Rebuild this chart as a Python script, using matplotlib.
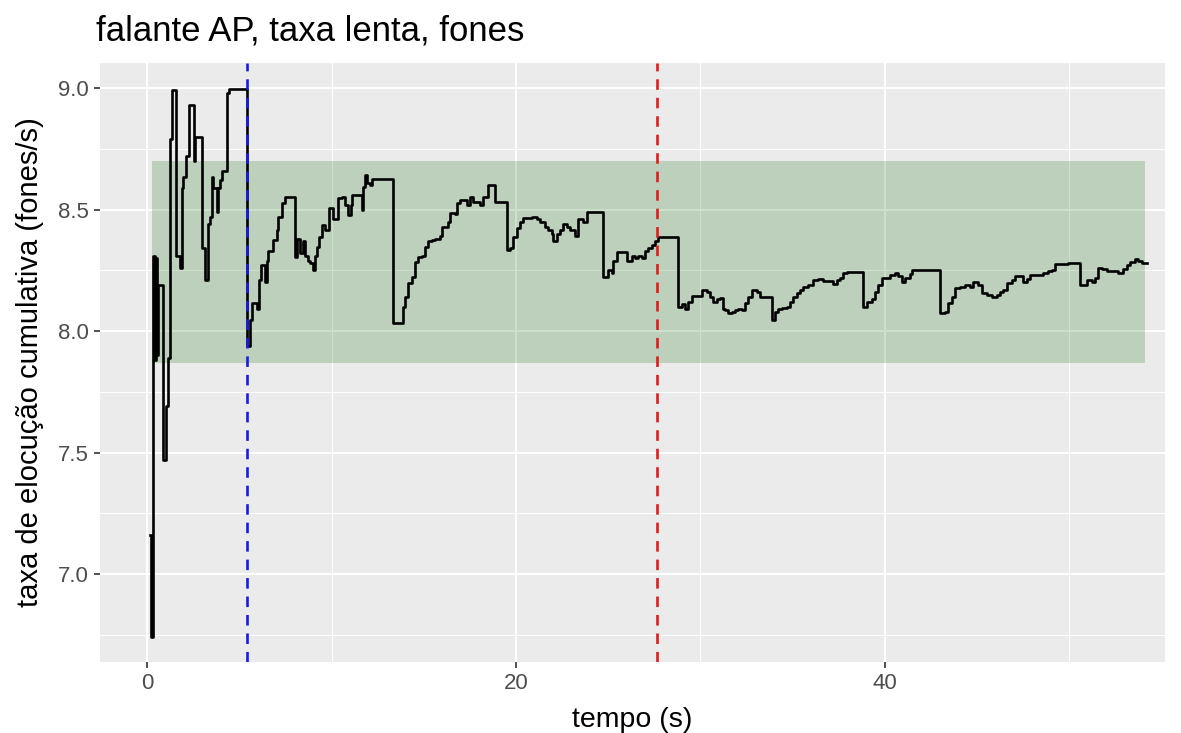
import matplotlib
matplotlib.use("Agg")
import matplotlib.pyplot as plt
from matplotlib.ticker import MultipleLocator

# cumulative speech rate (phones/s) over time, step changes
tempo = [0.16, 0.24, 0.30, 0.35, 0.43, 0.49, 0.55, 0.62, 0.89, 1.03, 1.11, 1.22, 1.33,
         1.57, 1.79, 1.87, 1.95, 2.11, 2.25, 2.52, 2.60,
         3.00, 3.14, 3.28, 3.41, 3.51, 3.60, 3.78, 3.86, 3.96, 4.07, 4.32, 4.44,
         5.40, 5.58, 5.67, 5.95, 6.09, 6.16, 6.40, 6.52, 6.57, 6.85, 7.03, 7.12, 7.30, 7.48,
         8.02, 8.11, 8.29, 8.47, 8.56, 8.74, 8.84, 9.01, 9.11, 9.23, 9.34, 9.47, 9.65, 9.88,
         10.10, 10.37, 10.55, 10.73, 10.91, 11.04, 11.10, 11.64, 11.73, 11.82, 11.91, 12.09, 12.18,
         13.35, 13.86, 13.98, 14.16, 14.35, 14.53, 14.70, 14.89, 15.07, 15.25, 15.43, 15.61, 15.88,
         15.97, 16.33, 16.42, 16.69, 16.79, 16.96, 17.33, 17.51, 17.69, 18.05, 18.23, 18.50,
         18.86, 19.50, 19.67, 19.85, 20.04, 20.22, 20.40, 20.85, 21.12, 21.30, 21.57, 21.75,
         21.93, 22.02, 22.21, 22.38, 22.56, 22.75, 22.93, 23.20, 23.38, 23.65, 23.83,
         24.70, 25.00, 25.19, 25.28, 25.46, 26.00, 26.27, 26.45, 26.63, 26.81, 26.99, 27.17,
         27.36, 27.53, 27.71,
         28.80, 28.98, 29.16, 29.34, 29.52, 30.07, 30.34, 30.51, 30.69, 30.88, 31.06, 31.24,
         31.33, 31.51, 31.69, 31.87, 32.05, 32.23, 32.41, 32.59, 32.77, 33.05, 33.22,
         33.86, 34.04, 34.22, 34.40, 34.67, 34.85, 35.03, 35.21, 35.39, 35.57, 35.84, 36.11,
         36.38, 36.66, 37.16, 37.38, 37.56, 37.74, 37.92,
         38.82, 39.01, 39.28, 39.46, 39.64, 39.82, 40.09, 40.27, 40.54, 40.72, 40.91, 41.08,
         41.36, 41.45,
         42.98, 43.25, 43.43, 43.62, 43.79, 44.07, 44.34, 44.61, 44.79, 45.06, 45.24, 45.51,
         45.78, 46.05, 46.23, 46.41, 46.60, 46.87, 47.05, 47.41, 47.50, 47.68, 47.86, 48.22,
         48.58, 48.85, 49.03, 49.22, 49.94,
         50.57, 50.93, 51.20, 51.38, 51.56, 51.74, 52.01, 52.64, 52.92, 53.10, 53.28, 53.55,
         53.73, 53.91, 54.18]
taxa = [7.16, 6.74, 8.06, 8.31, 7.88, 8.30, 7.90, 8.19, 7.47, 7.69, 7.89, 8.79, 8.99,
        8.31, 8.26, 8.59, 8.635, 8.72, 8.93, 8.70, 8.80,
        8.34, 8.21, 8.44, 8.47, 8.635, 8.59, 8.49, 8.59, 8.62, 8.66, 8.98, 8.995,
        7.94, 8.045, 8.114, 8.09, 8.21, 8.27, 8.20, 8.29, 8.33, 8.375, 8.415, 8.47, 8.525, 8.553,
        8.306, 8.38, 8.32, 8.37, 8.31, 8.29, 8.28, 8.25, 8.31, 8.347, 8.388, 8.436, 8.416, 8.505,
        8.46, 8.547, 8.553, 8.52, 8.477, 8.52, 8.56, 8.498, 8.594, 8.642, 8.61, 8.60, 8.624,
        8.034, 8.10, 8.14, 8.197, 8.224, 8.285, 8.306, 8.31, 8.347, 8.37, 8.375, 8.38, 8.39,
        8.43, 8.45, 8.485, 8.48, 8.525, 8.54, 8.52, 8.553, 8.53, 8.52, 8.553, 8.60,
        8.532, 8.333, 8.34, 8.388, 8.423, 8.45, 8.464, 8.47, 8.46, 8.45, 8.43, 8.416,
        8.40, 8.37, 8.40, 8.416, 8.44, 8.43, 8.416, 8.39, 8.46, 8.45, 8.49,
        8.224, 8.25, 8.24, 8.29, 8.326, 8.29, 8.31, 8.30, 8.31, 8.30, 8.33, 8.34,
        8.354, 8.37, 8.386,
        8.10, 8.11, 8.09, 8.12, 8.144, 8.17, 8.16, 8.14, 8.12, 8.13, 8.135, 8.09,
        8.086, 8.073, 8.08, 8.085, 8.09, 8.085, 8.114, 8.14, 8.17, 8.16, 8.14,
        8.045, 8.08, 8.09, 8.095, 8.10, 8.12, 8.14, 8.155, 8.17, 8.182, 8.19, 8.21,
        8.213, 8.205, 8.195, 8.21, 8.22, 8.24, 8.244,
        8.097, 8.12, 8.13, 8.16, 8.19, 8.217, 8.22, 8.23, 8.237, 8.225, 8.20, 8.22,
        8.235, 8.251,
        8.073, 8.08, 8.114, 8.14, 8.176, 8.18, 8.19, 8.18, 8.203, 8.19, 8.155, 8.15,
        8.139, 8.15, 8.16, 8.17, 8.196, 8.21, 8.226, 8.225, 8.20, 8.215, 8.23, 8.232,
        8.24, 8.245, 8.25, 8.276, 8.28,
        8.19, 8.21, 8.20, 8.22, 8.258, 8.255, 8.248, 8.24, 8.255, 8.27, 8.285, 8.295,
        8.29, 8.28, 8.28]

# reference band and marker times
faixa_min, faixa_max = 7.87, 8.70
faixa_inicio, faixa_fim = 0.27, 54.10
t_azul = 5.40
t_vermelho = 27.62

plt.rcParams['font.family'] = ['Liberation Sans', 'DejaVu Sans']

fig = plt.figure(figsize=(11.81, 7.33), dpi=100)
ax = fig.add_axes([100 / 1181, 71 / 733, 1065 / 1181, 599 / 733])

ax.set_facecolor('#EBEBEB')
for s in ax.spines.values():
    s.set_visible(False)

ax.xaxis.set_major_locator(MultipleLocator(20))
ax.xaxis.set_minor_locator(MultipleLocator(10))
ax.yaxis.set_major_locator(MultipleLocator(0.5))
ax.yaxis.set_minor_locator(MultipleLocator(0.25))
ax.grid(which='major', color='white', linewidth=1.5, zorder=0)
ax.grid(which='minor', color='white', linewidth=0.75, zorder=0)
ax.set_axisbelow(True)

ax.fill_between([faixa_inicio, faixa_fim], faixa_min, faixa_max,
                color='darkgreen', alpha=0.2, linewidth=0, zorder=1)

ax.step(tempo, taxa, where='post', color='black', linewidth=1.9, zorder=3)

ax.axvline(t_azul, color='#1a1ae6', linestyle=(0, (4, 3)), linewidth=1.9, zorder=4)
ax.axvline(t_vermelho, color='#e01c1c', linestyle=(0, (4, 3)), linewidth=1.9, zorder=4)

ax.set_xlim(-2.55, 55.18)
ax.set_ylim(6.638, 9.103)
ax.yaxis.set_major_formatter(matplotlib.ticker.FormatStrFormatter('%.1f'))

ax.tick_params(which='major', length=4, width=1.2, color='#333333',
               labelsize=16, labelcolor='#4D4D4D', pad=4)
ax.tick_params(which='minor', length=0)

ax.set_xlabel('tempo (s)', fontsize=20.5, labelpad=9)
ax.set_ylabel('taxa de elocução cumulativa (fones/s)', fontsize=21, labelpad=10)
fig.text(96 / 1181, 1 - 31 / 733, 'falante AP, taxa lenta, fones',
         fontsize=25, ha='left', va='center')

fig.savefig('out.png', dpi=100)
